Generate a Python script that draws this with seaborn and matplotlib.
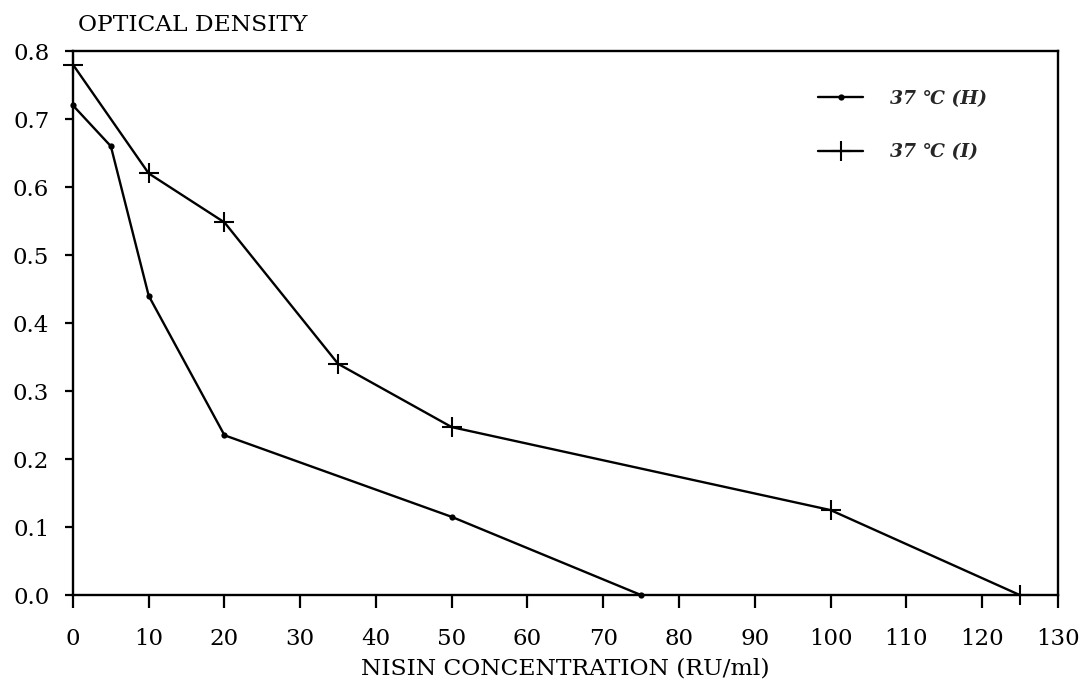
import matplotlib
matplotlib.use("Agg")
import matplotlib.pyplot as plt
import seaborn as sns
import pandas as pd

# Data
conc_h = [0, 5, 10, 20, 50, 75]
od_h = [0.72, 0.66, 0.44, 0.235, 0.115, 0.0]
conc_i = [0, 10, 20, 35, 50, 100, 125]
od_i = [0.78, 0.62, 0.548, 0.34, 0.247, 0.125, 0.0]
label_h = "37 \u2103 (H)"
label_i = "37 \u2103 (I)"
x_ticks = list(range(0, 131, 10))
y_ticks = [0.0, 0.1, 0.2, 0.3, 0.4, 0.5, 0.6, 0.7, 0.8]

sns.set_theme(style="ticks")
plt.rcParams['font.family'] = ['DejaVu Serif', 'Liberation Serif']

df_h = pd.DataFrame({"conc": conc_h, "od": od_h})
df_i = pd.DataFrame({"conc": conc_i, "od": od_i})

fig = plt.figure(figsize=(10.86, 6.84), dpi=100)
ax = fig.add_axes([0.0672, 0.130, 0.9068, 0.7954])

sns.lineplot(data=df_h, x="conc", y="od", ax=ax, color="black", linewidth=1.7,
             marker="o", markersize=4.5, markeredgewidth=0, markerfacecolor="black",
             label=label_h, clip_on=False)
sns.lineplot(data=df_i, x="conc", y="od", ax=ax, color="black", linewidth=1.7,
             marker="+", markersize=14, markeredgewidth=1.5, markeredgecolor="black",
             label=label_i, clip_on=False)

ax.set_xlim(0, 130)
ax.set_ylim(0, 0.8)
ax.set_xticks(x_ticks)
ax.set_yticks(y_ticks)
ax.set_yticklabels([f"{v:.1f}" for v in y_ticks])
ax.tick_params(axis="x", labelsize=16.5, width=1.6, length=9, colors="black",
               direction="out", pad=15)
ax.tick_params(axis="y", labelsize=16.5, width=1.6, length=6, colors="black",
               direction="out", pad=11)
for s in ax.spines.values():
    s.set_visible(True)
    s.set_linewidth(1.7)
    s.set_color("black")

ax.set_xlabel("NISIN CONCENTRATION (RU/ml)", fontsize=16.8, labelpad=5, color="black")
ax.set_ylabel("")
fig.text(0.072, 0.963, "OPTICAL DENSITY", fontsize=16.8, ha="left", va="center", color="black")

leg = ax.legend(loc="upper right", bbox_to_anchor=(0.945, 0.96), frameon=False,
                handlelength=2.4, labelspacing=1.9, handletextpad=1.4,
                prop={"style": "italic", "weight": "bold", "size": 13.5})

fig.savefig("out.png", dpi=100, facecolor="white")
